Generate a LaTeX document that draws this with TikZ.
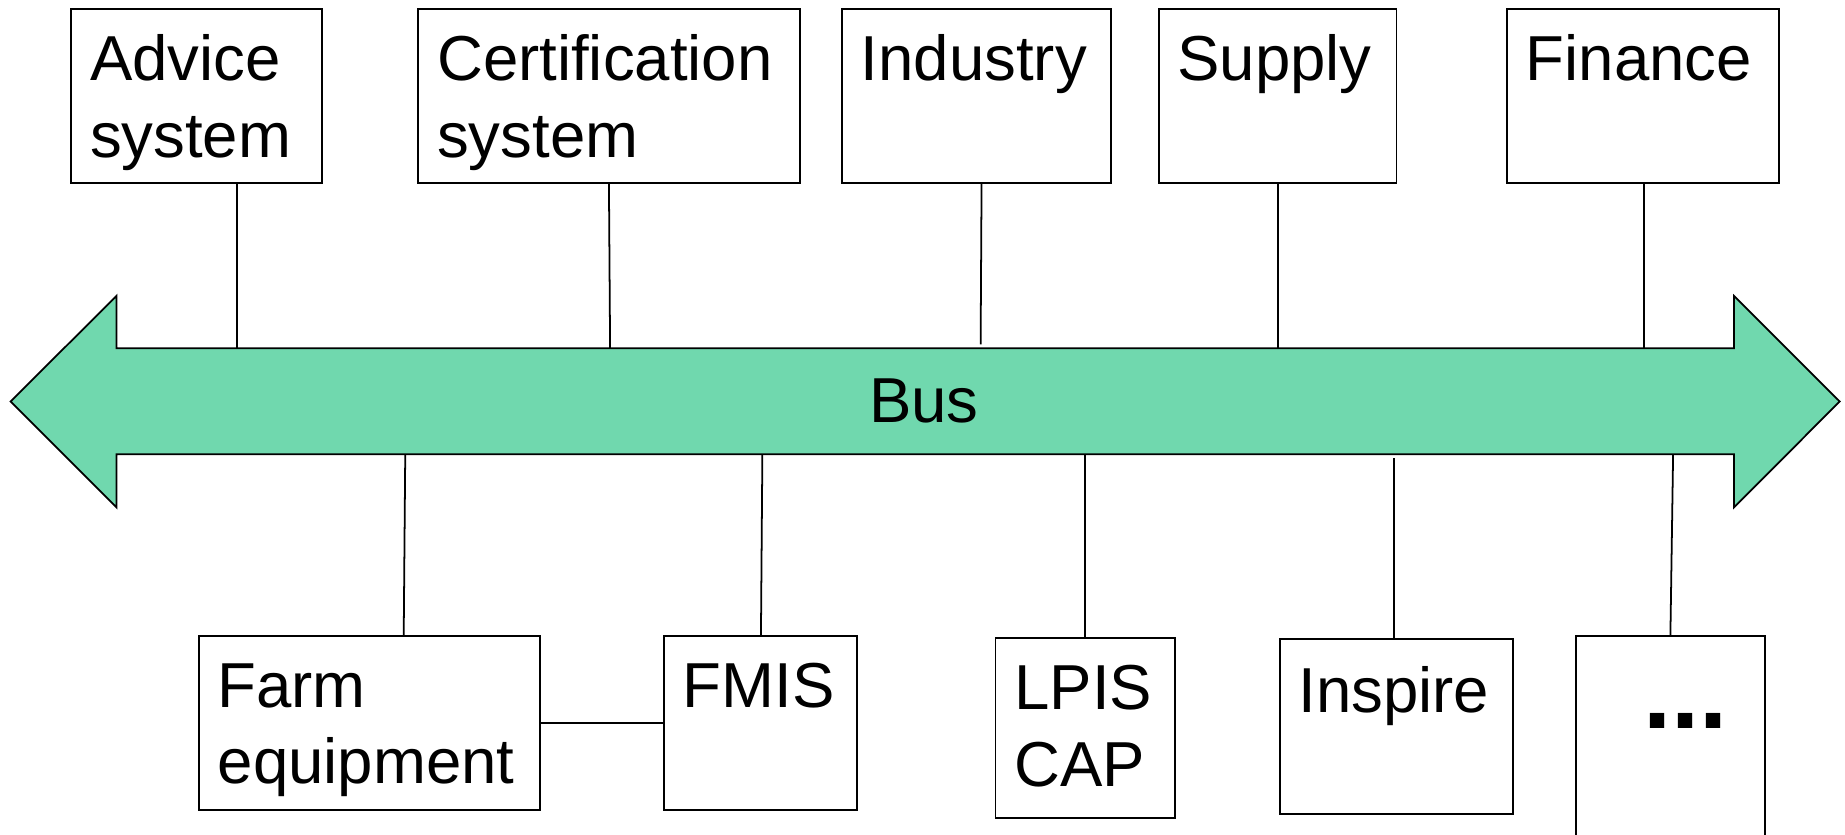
\documentclass[tikz,border=0pt]{standalone}
\usepackage{fontspec}
\setmainfont{Liberation Sans}
\definecolor{busgreen}{HTML}{70D8AE}
\begin{document}
\begin{tikzpicture}[x=1bp,y=-1bp,
  box/.style={draw=black, line width=1.5bp, rectangle, inner sep=0pt, outer sep=0pt},
  txt/.style={font=\fontsize{54bp}{65bp}\selectfont, align=left, anchor=north west, inner sep=0pt, outer sep=0pt},
  conn/.style={draw=black, line width=1.5bp}]
\useasboundingbox (0,0) rectangle (1568,709);
% bus arrow
\draw[fill=busgreen, line width=1.5bp, line join=miter]
  (9.1,341.2) -- (99.1,251.3) -- (99.1,296) -- (1473.6,296) -- (1473.6,251.5)
  -- (1563.5,341.2) -- (1473.6,431.2) -- (1473.6,386.1) -- (99.1,386.1)
  -- (99.1,431.2) -- cycle;
\node[font=\fontsize{54bp}{65bp}\selectfont, anchor=base, inner sep=0pt] (bus) at (785.2,358.7) {Bus};
% top boxes
\node[box, minimum width=213.4bp, minimum height=147.6bp] (adv) at (167.2,81.5) {};
\node[box, minimum width=324.1bp, minimum height=147.6bp] (cert) at (517.55,81.5) {};
\node[box, minimum width=228.8bp, minimum height=147.6bp] (ind) at (830,81.5) {};
\node[box, minimum width=202.1bp, minimum height=147.6bp] (sup) at (1085.75,81.5) {};
\node[box, minimum width=231.3bp, minimum height=147.6bp] (fin) at (1396.35,81.5) {};
\node[txt] (advT) at ([shift={(16,22)}]adv.north west) {Advice\\system};
\node[txt] (certT) at ([shift={(16,22)}]cert.north west) {Certification\\system};
\node[txt] (indT) at ([shift={(16,22)}]ind.north west) {Industry};
\node[txt] (supT) at ([shift={(16,22)}]sup.north west) {Supply};
\node[txt] (finT) at ([shift={(16,22)}]fin.north west) {Finance};
% bottom boxes
\node[box, minimum width=290bp, minimum height=148.2bp] (farm) at (314,614.3) {};
\node[box, minimum width=164bp, minimum height=148.2bp] (fmis) at (646.3,614.3) {};
\node[box, minimum width=152.8bp, minimum height=153.4bp] (lpis) at (922.4,618.7) {};
\node[box, minimum width=198.2bp, minimum height=148.7bp] (insp) at (1186.7,617.65) {};
\node[box, minimum width=160.5bp, minimum height=190bp] (more) at (1419.55,635.2) {};
\node[txt] (farmT) at ([shift={(16,23.5)}]farm.north west) {Farm\\equipment};
\node[txt] (fmisT) at ([shift={(16,23.5)}]fmis.north west) {FMIS};
\node[txt] (lpisT) at ([shift={(16,23.3)}]lpis.north west) {LPIS\\CAP};
\node[txt] (inspT) at ([shift={(16,23.3)}]insp.north west) {Inspire};
\node[font=\fontsize{86bp}{90bp}\selectfont\bfseries, anchor=base west, inner sep=0pt] (moreT) at (1396.5,619) {...};
% bus attachment points
\coordinate (bA) at (201.6,296);
\coordinate (bC) at (518.5,296);
\coordinate (bI) at (833.4,292.6);
\coordinate (bS) at (1086,296);
\coordinate (bF) at (1396.9,296);
\coordinate (bFa) at (344.4,386.1);
\coordinate (bFm) at (647.9,386.1);
\coordinate (bL) at (922,386.1);
\coordinate (bIn) at (1184.5,389.5);
\coordinate (bM) at (1421.9,386.1);
% connectors
\draw[conn] (adv.south -| bA) -- (bA);
\draw[conn] ([xshift=-1bp]cert.south -| bC) -- (bC);
\draw[conn] ([xshift=0.8bp]ind.south -| bI) -- (bI);
\draw[conn] (sup.south -| bS) -- (bS);
\draw[conn] (fin.south -| bF) -- (bF);
\draw[conn] ([xshift=-1.3bp]farm.north -| bFa) -- (bFa);
\draw[conn] ([xshift=-1.2bp]fmis.north -| bFm) -- (bFm);
\draw[conn] (lpis.north -| bL) -- (bL);
\draw[conn] (insp.north -| bIn) -- (bIn);
\draw[conn] ([xshift=-2.3bp]more.north -| bM) -- (bM);
\draw[conn] (farm.east |- 0,614.2) -- (fmis.west |- 0,614.2);
\end{tikzpicture}
\end{document}
